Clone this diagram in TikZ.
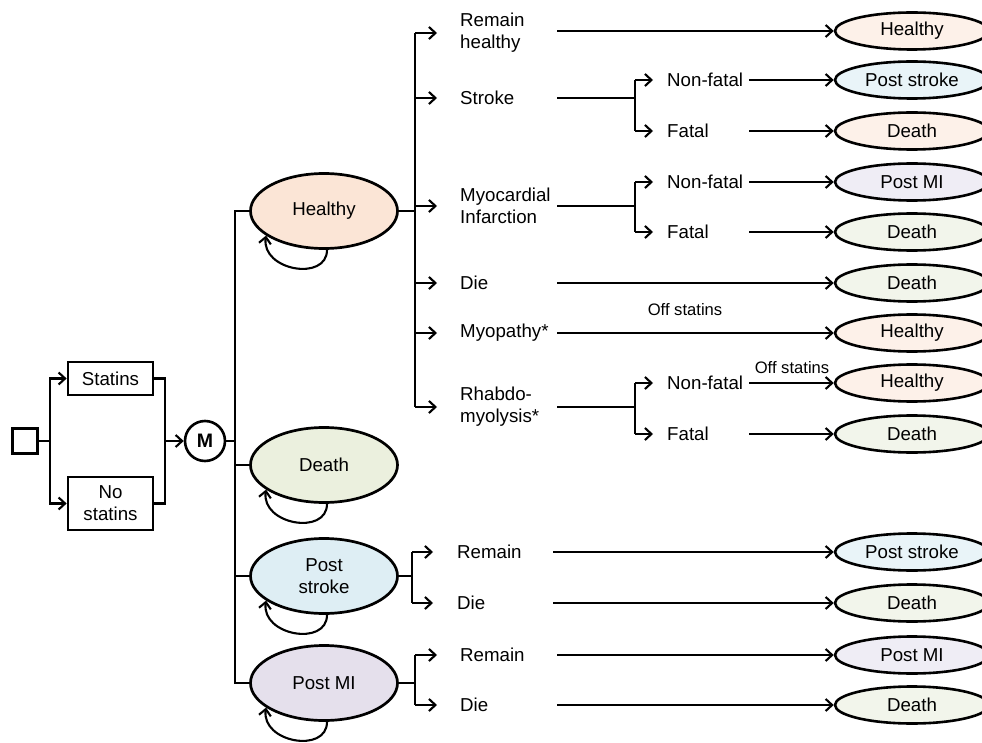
\documentclass[tikz,border=0pt]{standalone}
\usepackage{fontspec}
\setmainfont{Liberation Sans}
\usetikzlibrary{arrows.meta,shapes.geometric,calc}
\definecolor{hfill}{HTML}{FBE5D6}
\definecolor{dfill}{HTML}{EBF0DE}
\definecolor{sfill}{HTML}{DEEEF4}
\definecolor{mfill}{HTML}{E5E0EC}
\definecolor{hlt}{HTML}{FDF1E9}
\definecolor{dlt}{HTML}{F2F5EB}
\definecolor{slt}{HTML}{E9F4F8}
\definecolor{mlt}{HTML}{EFEDF5}
\newcommand\fmain{\fontsize{18.7}{22}\selectfont}
\newcommand\fsmall{\fontsize{16.6}{19}\selectfont}
\begin{document}
\begin{tikzpicture}[x=1pt,y=-1pt,
  every node/.style={font=\fmain},
  ln/.style={line width=2.1pt},
  arr/.style={line width=2.1pt,-{Straight Barb[length=6.5pt,width=12pt]}},
  boxnode/.style={draw,line width=2.7pt,minimum width=85pt,inner sep=0pt,align=center},
  bigell/.style={ellipse,draw,line width=2.7pt,minimum width=147pt,minimum height=75pt,inner sep=0pt,align=center},
  smell/.style={ellipse,draw,line width=2.6pt,minimum width=154pt,minimum height=37pt,inner sep=0pt},
  lab/.style={anchor=west,inner sep=0pt,text width=97pt,align=left},
  plab/.style={anchor=west,inner sep=0pt,text width=96pt,align=left},
  flab/.style={anchor=west,inner sep=0pt,text width=82pt,align=left},
  offlab/.style={inner sep=0pt,font=\fsmall}
]
\useasboundingbox (0,0) rectangle (982,743);
\clip (0,0) rectangle (982,743);

% decision part
\node[draw,line width=2.4pt,minimum size=25pt,inner sep=0pt] (dec) at (25,441) {};
\node[boxnode,minimum height=33pt] (st) at (110.5,378.5) {Statins};
\node[boxnode,minimum height=53pt] (ns) at (110.5,503.5) {No\\statins};
\node[circle,draw,line width=2.6pt,minimum size=40pt,inner sep=0pt,font=\bfseries\fontsize{19.5}{22}\selectfont] (M) at (205,441) {M};
\coordinate (d1) at (50,441);
\coordinate (m1) at (165,441);
\coordinate (m2) at (235,441);
\draw[ln] (dec.east) -- (d1);
\draw[arr] (d1) |- (st.west);
\draw[arr] (d1) |- (ns.west);
\draw[ln] (st.east) -| (m1);
\draw[ln] (ns.east) -| (m1);
\draw[arr] (m1) -- (M.west);
\draw[ln] (M.east) -- (m2);

% Markov states
\node[bigell,fill=hfill] (H) at (324,211) {Healthy};
\node[bigell,fill=dfill] (D) at (324,465) {Death};
\node[bigell,fill=sfill] (PS) at (324,576) {Post\\stroke};
\node[bigell,fill=mfill] (PM) at (324,683) {Post MI};
\draw[ln] (H.west) -| (m2 |- PM.west) -- (PM.west);
\draw[ln] (m2 |- D.west) -- (D.west);
\draw[ln] (m2 |- PS.west) -- (PS.west);
\foreach \s in {H,D,PS,PM}{
  \draw[arr] ([xshift=3pt]\s.south) .. controls +(0,32) and +(-5,35) .. (\s.203);
}

% right-hand states
\node[smell,fill=hlt] (r1) at (912,31) {Healthy};
\node[smell,fill=slt] (r2) at (912,80) {Post stroke};
\node[smell,fill=hlt] (r3) at (912,131) {Death};
\node[smell,fill=mlt] (r4) at (912,182) {Post MI};
\node[smell,fill=dlt] (r5) at (912,232) {Death};
\node[smell,fill=dlt] (r6) at (912,283) {Death};
\node[smell,fill=hlt] (r7) at (912,333) {Healthy};
\node[smell,fill=hlt] (r8) at (912,383) {Healthy};
\node[smell,fill=dlt] (r9) at (912,434) {Death};
\node[smell,fill=slt] (r10) at (912,552) {Post stroke};
\node[smell,fill=dlt] (r11) at (912,603) {Death};
\node[smell,fill=mlt] (r12) at (912,655) {Post MI};
\node[smell,fill=dlt] (r13) at (912,705) {Death};

% Healthy branches
\coordinate (hb) at (415,211);
\node[lab] (l1) at (460,33) {Remain\\healthy};
\node[lab] (l2) at (460,98) {Stroke};
\node[lab] (l3) at (460,206) {Myocardial\\Infarction};
\node[lab] (l4) at (460,283) {Die};
\node[lab] (l5) at (460,333) {Myopathy*};
\node[lab] (l6) at (460,407) {Rhabdo-\\myolysis*};
\draw[ln] (H.east) -- (hb);
\draw[ln] (hb |- l1.west) -- (hb |- l6.west);
\foreach \l in {l1,l2,l3,l4,l5,l6}{
  \draw[arr,shorten >=23pt] (hb |- \l.west) -- (\l.west);
}

% second-level branches
\coordinate (sb) at (635,98);
\coordinate (mb) at (635,206);
\coordinate (rb) at (635,407);
\node[flab] (f1) at (667,80) {Non-fatal};
\node[flab] (f2) at (667,131) {Fatal};
\node[flab] (f3) at (667,182) {Non-fatal};
\node[flab] (f4) at (667,232) {Fatal};
\node[flab] (f5) at (667,383) {Non-fatal};
\node[flab] (f6) at (667,434) {Fatal};
\draw[ln] (l2.east |- sb) -- (sb);
\draw[ln] (l3.east |- mb) -- (mb);
\draw[ln] (l6.east |- rb) -- (rb);
\draw[ln] (sb |- f1.west) -- (sb |- f2.west);
\draw[ln] (mb |- f3.west) -- (mb |- f4.west);
\draw[ln] (rb |- f5.west) -- (rb |- f6.west);
\foreach \s/\f in {sb/f1,sb/f2,mb/f3,mb/f4,rb/f5,rb/f6}{
  \draw[arr,shorten >=14pt] (\s |- \f.west) -- (\f.west);
}

% to terminal states
\draw[arr] (l1.east |- r1.west) -- (r1.west);
\draw[arr] (f1.east) -- (r2.west);
\draw[arr] (f2.east) -- (r3.west);
\draw[arr] (f3.east) -- (r4.west);
\draw[arr] (f4.east) -- (r5.west);
\draw[arr] (l4.east) -- (r6.west);
\draw[arr] (l5.east) -- (r7.west);
\draw[arr] (f5.east) -- (r8.west);
\draw[arr] (f6.east) -- (r9.west);
\node[offlab] (o1) at (685,310) {Off statins};
\node[offlab] (o2) at (792,368) {Off statins};

% Post stroke branches
\coordinate (pb) at (412,576);
\node[plab] (p1) at (457,552) {Remain};
\node[plab] (p2) at (457,603) {Die};
\draw[ln] (PS.east) -- (pb);
\draw[ln] (pb |- p1.west) -- (pb |- p2.west);
\draw[arr,shorten >=24pt] (pb |- p1.west) -- (p1.west);
\draw[arr,shorten >=24pt] (pb |- p2.west) -- (p2.west);
\draw[arr] (p1.east) -- (r10.west);
\draw[arr] (p2.east) -- (r11.west);

% Post MI branches
\coordinate (qb) at (415,683);
\node[lab] (q1) at (460,655) {Remain};
\node[lab] (q2) at (460,705) {Die};
\draw[ln] (PM.east) -- (qb);
\draw[ln] (qb |- q1.west) -- (qb |- q2.west);
\draw[arr,shorten >=23pt] (qb |- q1.west) -- (q1.west);
\draw[arr,shorten >=23pt] (qb |- q2.west) -- (q2.west);
\draw[arr] (q1.east) -- (r12.west);
\draw[arr] (q2.east) -- (r13.west);
\end{tikzpicture}
\end{document}
